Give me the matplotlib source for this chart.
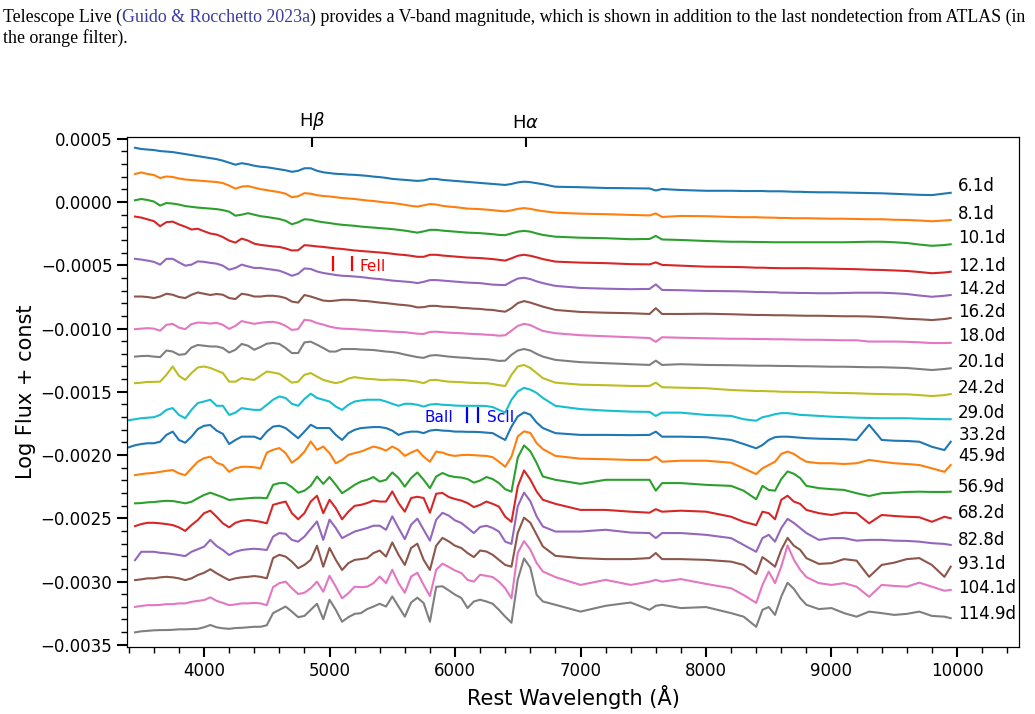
import matplotlib
matplotlib.use('Agg')
import matplotlib.pyplot as plt
import numpy as np
from matplotlib.ticker import MultipleLocator

nan = float('nan')

# rest wavelength grid (Angstrom), shared by all epochs
wave = [3400, 3450, 3500, 3550, 3600, 3650, 3700, 3750, 3800, 3850,
        3900, 3950, 4000, 4050, 4100, 4150, 4200, 4250, 4300, 4350,
        4400, 4450, 4500, 4550, 4600, 4650, 4700, 4750, 4800, 4850,
        4900, 4950, 5000, 5050, 5100, 5150, 5200, 5250, 5300, 5350,
        5400, 5450, 5500, 5550, 5600, 5650, 5700, 5750, 5800, 5850,
        5900, 5950, 6000, 6050, 6100, 6150, 6200, 6250, 6300, 6350,
        6400, 6450, 6500, 6550, 6600, 6650, 6700,
        6800, 7000, 7200, 7400, 7550, 7600, 7650, 7800,
        8000, 8200, 8300, 8400, 8450, 8500, 8550, 8600, 8650, 8700, 8750, 8800,
        8900, 9000, 9100, 9200, 9300, 9400, 9500, 9600, 9700, 9800, 9900, 9950]

epochs = ['6.1d', '8.1d', '10.1d', '12.1d', '14.2d', '16.2d', '18.0d', '20.1d',
          '24.2d', '29.0d', '33.2d', '45.9d', '56.9d', '68.2d', '82.8d', '93.1d',
          '104.1d', '114.9d']

# the "const" of each spectrum, units of 1e-4
offsets = [0.79, -1.42, -3.32, -5.53, -7.35, -9.17, -11.07, -13.12, -15.18,
           -17.15, -18.89, -20.55, -23.0, -25.06, -27.19, -29.09, -30.99, -33.04]

# log flux relative to the const, units of 1e-5
f_6_1 = [nan, 35.0, 34.0, 33.6, 33.2, 32.4, 32.0, 31.6, 30.8, 30.0,
         29.2, 28.4, 27.6, 26.8, 26.0, 24.8, 23.2, 21.6, 22.8, 22.0,
         20.8, 20.0, 19.6, 18.8, 18.0, 17.2, 16.0, 16.8, 18.8, 18.8,
         16.8, 15.6, 15.0, 14.4, 14.2, 13.8, 13.6, 13.2, 12.8, 12.2,
         11.8, 11.2, 10.4, 10.0, 9.6, 9.2, 8.8, 9.2, 10.4, 10.4,
         9.6, 9.2, 8.8, 8.4, 8.0, 7.6, 7.2, 6.8, 6.4, 6.0,
         5.6, 6.4, 7.6, 8.2, 7.8, 7.0, 6.2,
         4.2, 3.8, 3.2, 3.0, 2.8, 1.2, 2.4, 1.6,
         1.0, 1.0, 0.8, 0.8, 0.8, 0.6, 0.6, 0.6, 0.4, 0.2, 0.2, 0.0,
         -0.2, -0.2, -0.4, -0.6, -0.8, -1.0, -1.4, -1.8, -2.2, -2.4, -1.2, -0.6]
f_8_1 = [nan, 36.4, 37.6, 36.4, 35.6, 33.2, 34.4, 34.0, 32.8, 32.0,
         31.6, 31.2, 30.8, 30.4, 30.0, 29.2, 27.2, 24.8, 26.4, 26.8,
         25.6, 24.4, 23.6, 22.8, 22.0, 20.8, 18.0, 18.8, 21.2, 20.8,
         19.6, 19.0, 18.6, 18.0, 17.4, 17.0, 16.6, 16.0, 15.4, 15.0,
         14.4, 13.8, 13.4, 12.8, 12.0, 11.2, 10.6, 11.6, 12.6, 12.2,
         11.2, 10.6, 10.2, 9.6, 9.0, 8.8, 8.6, 8.2, 7.8, 7.2,
         6.8, 7.6, 8.8, 9.4, 8.8, 7.8, 7.0,
         5.8, 5.0, 4.6, 4.0, 3.6, 5.2, 2.4, 3.2,
         3.0, 2.4, 2.2, 2.2, 2.0, 1.9, 1.8, 1.6, 1.6, 1.4, 1.4, 1.4,
         1.2, 1.0, 1.0, 0.8, 0.6, 0.6, 0.2, 0.0, -0.4, -1.0, -0.4, 0.0]
f_10_1 = [nan, 34.6, 35.6, 34.8, 33.6, 30.4, 32.4, 32.0, 31.2, 30.0,
          29.4, 28.8, 28.4, 28.0, 27.6, 26.8, 25.6, 22.4, 23.2, 24.4,
          23.2, 22.0, 21.4, 20.6, 19.8, 18.4, 15.6, 17.2, 19.6, 19.2,
          18.0, 17.2, 16.6, 15.8, 15.2, 14.8, 14.4, 13.8, 13.4, 13.0,
          12.6, 12.2, 11.8, 11.2, 10.6, 9.8, 9.0, 10.0, 11.2, 11.2,
          10.6, 10.2, 9.8, 9.4, 9.0, 8.8, 8.6, 8.2, 7.8, 7.2,
          7.0, 8.4, 9.8, 10.4, 9.8, 8.4, 7.2,
          5.8, 5.0, 4.6, 3.8, 4.0, 6.4, 3.6, 3.2,
          2.4, 1.8, 1.8, 1.6, 1.6, 1.5, 1.4, 1.4, 1.4, 1.4, 1.4, 1.4,
          1.4, 1.4, 1.4, 1.6, 1.8, 1.8, 1.4, 0.8, -0.4, -1.4, -0.8, -0.2]
f_12_1 = [nan, 43.8, 43.0, 41.6, 40.2, 36.2, 39.4, 39.8, 37.6, 35.8,
          33.6, 34.2, 32.2, 30.4, 29.6, 27.6, 24.8, 23.2, 26.4, 24.8,
          22.4, 21.4, 20.8, 20.2, 19.8, 18.6, 17.0, 17.2, 21.2, 20.8,
          20.2, 19.8, 19.2, 18.6, 18.2, 17.6, 17.0, 16.6, 16.2, 15.8,
          15.4, 15.0, 14.4, 13.8, 13.4, 12.8, 12.0, 12.0, 13.6, 13.6,
          13.0, 12.6, 12.2, 11.8, 11.4, 11.2, 11.0, 10.6, 10.2, 9.6,
          9.0, 10.8, 12.8, 13.6, 12.8, 11.6, 10.2,
          8.2, 7.4, 7.0, 6.2, 6.0, 7.6, 5.6, 5.0,
          4.2, 4.0, 3.8, 3.4, 3.4, 3.2, 3.1, 3.0, 3.0, 3.0, 3.0, 3.0,
          2.8, 2.6, 2.4, 2.2, 1.8, 1.6, 1.2, 0.8, 0.0, -1.0, -0.4, 0.2]
f_14_2 = [nan, 28.6, 28.0, 27.2, 26.2, 24.0, 28.6, 28.6, 25.8, 23.2,
          24.0, 26.6, 26.2, 25.4, 24.8, 23.2, 20.0, 21.4, 24.0, 22.6,
          21.4, 21.4, 20.6, 20.0, 19.2, 17.4, 15.2, 16.8, 21.0, 20.6,
          18.6, 17.4, 16.6, 15.8, 15.2, 15.0, 14.6, 14.2, 13.6, 13.0,
          12.6, 12.0, 11.4, 11.0, 10.6, 10.2, 9.4, 10.4, 11.8, 11.8,
          11.4, 11.0, 10.6, 10.2, 9.8, 9.6, 9.4, 8.8, 8.2, 8.0,
          7.8, 10.6, 13.0, 13.6, 12.6, 10.8, 9.4,
          7.2, 5.6, 5.0, 4.6, 4.8, 8.4, 4.0, 3.8,
          3.2, 3.0, 2.8, 2.4, 2.4, 2.2, 2.2, 1.8, 1.8, 1.7, 1.6, 1.6,
          1.4, 1.4, 1.6, 1.8, 1.8, 1.8, 1.4, 0.8, -0.4, -1.4, -0.6, 0.0]
f_16_2 = [nan, 17.0, 17.0, 16.6, 15.8, 17.0, 19.2, 18.4, 16.6, 15.8,
          18.4, 20.2, 19.2, 18.2, 19.0, 18.4, 15.8, 15.0, 19.2, 18.4,
          17.0, 17.0, 17.6, 17.6, 17.0, 15.8, 13.0, 12.2, 18.2, 17.0,
          15.4, 13.8, 13.4, 13.8, 14.4, 14.4, 14.2, 13.6, 13.4, 12.8,
          12.2, 11.8, 11.2, 10.6, 10.2, 9.6, 8.4, 8.6, 9.6, 9.6,
          9.0, 8.8, 8.6, 8.0, 7.8, 7.4, 7.2, 6.6, 6.4, 5.6,
          5.0, 7.8, 11.8, 13.4, 12.2, 10.6, 9.0,
          6.4, 4.8, 4.2, 3.8, 3.2, 7.8, 3.2, 3.2,
          3.4, 3.0, 2.7, 2.4, 2.4, 2.3, 2.2, 2.2, 2.1, 2.0, 1.9, 1.8,
          1.8, 1.6, 1.4, 1.4, 1.2, 0.8, 0.2, -0.6, -1.0, -1.6, -0.8, 0.0]
f_18_0 = [nan, 10.2, 10.6, 11.0, 10.6, 9.0, 13.6, 14.4, 11.4, 10.2,
          14.2, 15.4, 15.2, 14.6, 15.2, 13.6, 10.4, 12.8, 16.6, 15.4,
          14.4, 15.2, 15.8, 16.0, 15.0, 12.8, 9.6, 10.2, 17.6, 17.0,
          15.0, 13.8, 12.2, 11.2, 10.6, 10.4, 10.2, 9.8, 9.6, 9.0,
          8.8, 8.6, 8.2, 8.0, 7.8, 7.2, 6.6, 6.4, 8.0, 8.2,
          7.8, 7.4, 7.2, 7.0, 6.6, 6.4, 6.2, 5.8, 5.6, 5.0,
          5.4, 9.0, 12.8, 14.4, 13.4, 11.0, 8.8,
          7.0, 5.4, 4.6, 3.8, 3.2, 0.2, 3.8, 3.4,
          3.0, 2.6, 2.6, 2.4, 2.4, 2.3, 2.2, 2.2, 2.1, 2.0, 1.9, 1.8,
          1.8, 1.6, 1.4, 1.4, 0.4, 0.4, 0.4, 0.2, -0.2, -0.8, -0.8, -0.6]
f_20_1 = [nan, 9.0, 9.4, 9.6, 9.0, 8.6, 13.8, 13.0, 10.4, 11.0,
          16.2, 18.2, 17.6, 17.0, 17.0, 15.8, 12.2, 14.4, 19.0, 17.6,
          14.4, 16.6, 19.2, 19.8, 19.0, 15.8, 11.8, 11.8, 20.2, 20.8,
          18.4, 15.8, 13.0, 13.0, 15.0, 15.0, 15.0, 14.6, 14.4, 14.2,
          13.6, 13.0, 12.6, 11.8, 10.6, 9.6, 8.6, 8.0, 9.8, 10.2,
          9.6, 9.0, 8.6, 8.2, 8.0, 7.4, 7.2, 7.0, 6.4, 5.6,
          5.8, 10.4, 13.8, 15.0, 13.8, 11.2, 9.0,
          6.4, 4.6, 3.8, 3.0, 2.4, 5.8, 2.4, 3.0,
          2.4, 2.2, 2.0, 1.8, 1.8, 1.8, 1.7, 1.6, 1.6, 1.5, 1.4, 1.4,
          1.2, 1.0, 1.0, 0.8, 0.6, 0.6, 0.3, 0.0, -0.8, -1.6, -0.8, -0.2]
f_24_2 = [nan, 8.6, 9.0, 9.6, 9.6, 9.8, 15.2, 21.8, 14.4, 11.2,
          16.6, 21.0, 21.8, 20.6, 18.6, 16.6, 9.8, 9.8, 12.6, 11.8,
          11.2, 14.4, 17.8, 17.0, 16.0, 12.6, 9.0, 9.8, 15.2, 16.6,
          13.8, 11.2, 9.8, 8.6, 9.8, 12.2, 13.4, 12.6, 12.0, 11.8,
          11.2, 11.2, 11.4, 11.2, 11.0, 10.4, 9.8, 8.6, 11.0, 11.2,
          10.4, 9.8, 9.6, 9.4, 9.0, 8.8, 8.6, 8.6, 8.0, 7.0,
          6.4, 15.2, 21.8, 23.0, 20.6, 16.6, 12.6,
          9.0, 7.4, 7.0, 6.4, 6.4, 9.0, 5.4, 5.0,
          4.6, 3.2, 2.8, 2.4, 2.4, 2.2, 2.1, 1.8, 1.8, 1.7, 1.6, 1.6,
          1.4, 1.0, 0.8, 0.6, 0.2, 0.0, -0.2, -0.2, -0.8, -1.6, -0.8, 0.0]
f_29_0 = [-1.0, -0.2, 0.6, 1.0, 1.4, 3.2, 7.2, 8.6, 3.2, 0.6,
          7.2, 12.6, 13.8, 15.2, 10.4, 10.4, 3.2, 5.0, 8.6, 7.8,
          7.2, 7.2, 11.2, 15.2, 17.8, 16.6, 12.0, 10.4, 15.8, 20.0,
          16.6, 15.2, 13.8, 9.8, 7.2, 11.2, 13.8, 14.6, 15.2, 15.2,
          15.2, 13.8, 12.0, 10.4, 12.0, 12.0, 11.2, 9.8, 11.4, 11.8,
          11.2, 11.0, 10.6, 10.4, 10.4, 10.4, 10.4, 10.2, 9.4, 7.2,
          5.0, 15.2, 21.8, 24.6, 23.2, 20.6, 16.6,
          10.4, 7.8, 6.6, 5.8, 5.6, 2.4, 5.0, 5.0,
          3.2, 2.4, -0.2, -1.4, 1.4, 2.4, 3.8, 4.6, 4.6, 4.0, 3.2, 3.0,
          2.4, 1.8, 1.4, 1.0, 0.8, 0.6, 0.6, 0.6, 0.2, 0.0, -0.2, -0.2]
f_33_2 = [-5.0, -3.4, -2.4, -1.8, -1.8, -0.6, 4.8, 7.4, 0.8, -1.4,
          3.4, 9.4, 12.0, 12.6, 8.2, 5.6, -2.4, 0.8, 3.4, 3.4,
          3.4, 1.4, 7.4, 11.4, 12.0, 10.2, 6.2, 2.2, 7.4, 12.8,
          10.2, 10.2, 10.2, 4.8, 0.8, 6.2, 8.8, 10.2, 10.6, 11.0,
          11.0, 10.2, 8.2, 4.8, 6.6, 7.4, 7.4, 6.2, 8.2, 8.8,
          8.2, 8.0, 7.4, 7.4, 7.2, 7.2, 7.0, 6.6, 6.2, 3.4,
          0.8, 11.4, 19.4, 22.6, 20.8, 14.6, 10.2,
          6.2, 4.8, 4.8, 4.6, 4.8, 7.4, 3.4, 3.4,
          3.0, 0.8, -2.4, -5.8, -3.2, 0.8, 3.0, 3.4, 3.4, 3.0, 2.6, 2.2,
          1.8, 1.6, 1.4, 0.8, 12.8, 0.8, 0.2, 0.0, -0.6, -4.6, -7.2, -0.6]
f_45_9 = [nan, -10.4, -9.6, -9.0, -8.6, -7.8, -7.0, -6.4, -9.0, -10.4,
          -5.0, 0.2, 3.0, 4.2, -0.6, -2.4, -7.8, -5.0, -3.8, -3.8,
          -4.2, -5.0, 7.4, 9.6, 11.0, 7.0, -0.6, 3.0, 8.2, 16.2,
          9.6, 12.2, 7.0, -1.0, 1.6, 5.6, 7.0, 8.2, 10.2, 12.2,
          11.0, 9.0, 12.2, 9.6, 4.8, 7.4, 9.6, 4.2, 0.2, 8.2,
          7.4, 5.6, 4.8, 5.4, 5.6, 5.4, 5.0, 4.8, 3.8, 0.2,
          -3.8, 4.2, 20.2, 24.2, 23.0, 15.0, 10.2,
          4.8, 2.6, 2.2, 1.6, 1.6, 4.2, 0.2, 1.0,
          1.0, -0.6, -5.0, -9.6, -5.0, -2.4, 0.2, 6.4, 8.2, 6.4, 3.0, 0.2,
          -1.0, -1.0, -1.6, -1.0, 1.6, 0.2, -1.0, -1.6, -2.4, -5.0, -7.8, -2.4]
f_56_9 = [nan, -8.2, -8.0, -7.4, -7.2, -6.6, -6.2, -6.4, -7.2, -8.2,
          -7.0, -4.2, -1.6, 0.2, -1.6, -3.4, -5.6, -5.0, -4.6, -4.2,
          -3.8, -3.8, -4.2, 6.4, 7.8, 7.8, 4.6, 0.2, 1.8, 5.6,
          13.0, 7.2, 12.6, 6.4, -0.2, 3.0, 6.4, 9.0, 10.4, 12.6,
          9.0, 10.4, 16.2, 11.8, 5.0, 11.8, 16.2, 10.4, 3.8, 13.0,
          15.8, 13.6, 12.6, 12.2, 11.0, 8.2, 9.8, 12.6, 11.0, 7.8,
          3.0, 1.0, 28.0, 37.6, 33.0, 23.8, 13.0,
          10.4, 7.2, 10.4, 10.4, 10.4, 1.8, 7.8, 7.8,
          6.4, 5.6, 1.8, -5.0, 5.6, 2.4, 1.8, 11.0, 17.0, 15.2, 11.8, 5.6,
          3.8, 3.0, 2.4, -0.2, -2.4, -0.2, 0.2, 0.8, 1.0, 0.8, 0.8, 1.0]
f_68_2 = [nan, -5.6, -4.0, -3.0, -3.0, -3.4, -4.0, -4.8, -6.6, -9.4,
          -4.8, -0.8, 4.6, 6.6, 1.8, -3.4, -6.6, -3.0, -1.4, -0.8,
          -1.4, -2.2, -3.4, 11.2, 12.6, 13.8, 4.6, -0.2, 4.6, 13.8,
          18.4, 4.6, 15.2, 8.6, -0.2, 5.8, 10.4, 11.2, 12.6, 14.6,
          13.8, 13.8, 21.8, 12.6, 5.8, 16.6, 17.6, 16.6, 5.0, 20.0,
          20.6, 17.4, 15.8, 14.6, 12.6, 9.4, 11.2, 13.8, 12.0, 9.8,
          1.8, -2.2, 25.8, 38.4, 31.2, 21.8, 15.2,
          12.0, 7.2, 7.2, 5.8, 5.0, 7.8, 5.8, 6.6,
          5.8, 1.8, -2.2, -4.8, 5.8, 4.6, -0.2, 15.2, 18.4, 13.8, 12.0, 7.2,
          4.6, 3.2, 5.0, 4.6, -3.4, 3.2, 2.4, 1.8, 1.4, -2.2, 1.8, 0.6]
f_82_8 = [nan, -11.2, -4.6, -4.6, -4.6, -5.4, -5.8, -6.4, -7.2, -8.0,
          -4.6, -2.6, -0.6, 4.8, 0.0, -3.2, -7.2, -4.6, -3.2, -2.6,
          -2.2, -2.6, -3.2, 7.4, 10.2, 9.6, 4.8, 3.4, 7.4, 13.4,
          19.4, 4.8, 20.8, 14.2, 6.2, 8.8, 11.4, 12.8, 14.2, 16.0,
          16.0, 12.8, 23.4, 14.2, 5.4, 16.8, 21.6, 12.8, 4.2, 20.8,
          26.2, 24.0, 20.2, 18.2, 14.2, 10.2, 15.0, 16.0, 14.2, 11.4,
          3.4, 1.6, 31.4, 42.2, 35.4, 23.4, 15.4,
          11.4, 11.4, 12.8, 10.6, 10.2, 6.2, 10.2, 10.2,
          8.8, 6.2, 0.8, -4.6, 6.2, 8.8, 3.4, 14.2, 21.4, 18.2, 14.2, 10.2,
          4.8, 6.2, 6.2, 4.2, 4.8, 4.8, 4.2, 4.0, 3.4, 2.2, 1.6, 0.8]
f_93_1 = [nan, -8.0, -7.4, -6.6, -6.6, -5.8, -5.4, -5.8, -6.6, -8.0,
          -6.6, -4.0, -2.2, 0.6, -2.6, -5.4, -8.0, -6.6, -5.8, -5.4,
          -4.8, -5.4, -6.6, 9.4, 12.0, 10.6, 6.6, 1.4, 4.0, 8.0,
          19.2, 2.6, 17.4, 8.0, 0.0, 5.4, 8.0, 8.6, 9.4, 13.4,
          15.4, 10.6, 21.8, 12.0, 4.0, 17.4, 20.8, 8.0, 0.0, 19.2,
          25.4, 22.6, 19.2, 17.4, 13.4, 10.2, 15.4, 14.6, 12.0, 8.0,
          4.0, 2.6, 29.4, 41.4, 37.4, 28.0, 18.6,
          11.2, 9.4, 8.6, 8.6, 9.4, 13.4, 8.6, 8.6,
          8.0, 6.6, 4.0, -3.2, 10.2, 6.6, 2.6, 16.0, 25.4, 19.2, 16.0, 9.4,
          4.8, 5.4, 8.6, 7.4, -5.4, 4.0, 5.8, 8.6, 9.4, 4.0, -5.4, 2.6]
f_104_1 = [nan, -10.2, -9.4, -8.8, -8.8, -8.6, -8.0, -8.0, -7.4, -7.4,
           -6.2, -5.4, -4.8, -2.6, -5.4, -7.0, -8.8, -8.2, -7.4, -7.4,
           -7.0, -7.4, -8.8, 5.4, 8.6, 9.8, 4.6, 0.0, 1.0, 4.6,
           9.8, 1.8, 14.4, 5.8, -3.4, 0.6, 5.8, 5.4, 5.8, 8.6,
           13.8, 8.6, 19.2, 8.6, 1.0, 13.8, 16.8, 7.2, -1.6, 19.2,
           24.0, 21.4, 18.6, 16.6, 11.2, 9.8, 15.2, 14.4, 13.4, 9.8,
           4.6, -3.4, 32.6, 41.8, 35.2, 24.6, 17.8,
           13.4, 7.2, 11.2, 7.2, 9.8, 11.2, 9.8, 11.8,
           8.0, 4.6, -0.8, -7.0, 7.2, 17.8, 8.6, 21.8, 38.4, 27.2, 19.2, 13.4,
           8.6, 7.2, 8.6, 5.8, -2.2, 7.2, 6.4, 5.8, 9.0, 5.8, 2.6, 3.2]
f_114_9 = [nan, -9.8, -9.0, -8.6, -8.2, -8.0, -8.0, -7.8, -7.4, -7.4,
           -7.2, -7.0, -5.8, -4.0, -5.8, -6.6, -7.0, -6.4, -6.2, -5.8,
           -5.4, -5.4, -4.2, 5.4, 8.0, 10.6, 6.6, 2.2, 3.2, 8.0,
           12.8, 0.6, 16.0, 8.0, -1.4, 2.2, 4.8, 5.4, 8.6, 10.6,
           12.8, 10.6, 18.6, 10.6, 2.6, 13.8, 17.6, 13.4, -1.4, 26.2,
           26.6, 23.4, 20.0, 17.4, 9.4, 14.6, 16.0, 14.6, 12.8, 8.0,
           2.6, -2.2, 32.0, 48.6, 41.4, 20.0, 14.6,
           12.0, 6.6, 11.2, 13.8, 8.0, 11.2, 12.0, 9.4,
           10.2, 5.4, 2.6, -5.4, 8.0, 10.2, 4.0, 18.6, 29.4, 24.6, 17.4, 12.0,
           8.6, 9.4, 5.4, 2.6, 6.6, 5.4, 4.0, 4.8, 6.6, 3.2, 2.6, 1.4]

spectra = [f_6_1, f_8_1, f_10_1, f_12_1, f_14_2, f_16_2, f_18_0, f_20_1, f_24_2,
           f_29_0, f_33_2, f_45_9, f_56_9, f_68_2, f_82_8, f_93_1, f_104_1, f_114_9]

# line identifications
feii_wave = [5030, 5180]
baii_scii_wave = [6095, 6180]
balmer_wave = [4861, 6563]
balmer_names = [r'H$\beta$', r'H$\alpha$']

fig = plt.figure(figsize=(10.35, 7.14), dpi=100)
ax = fig.add_axes([0.1227, 0.0938, 0.8618, 0.7143])

for i, (lab, fl) in enumerate(zip(epochs, spectra)):
    y = offsets[i] * 1e-4 + np.array(fl) * 1e-5
    ax.plot(wave, y, color=f'C{i % 10}', lw=1.5)
    ax.text(10010, offsets[i] * 1e-4 + 0.45e-4, lab, fontsize=12, va='center')

ax.vlines(feii_wave, -0.000543, -0.000427, color='red', lw=1.6)
ax.text(5240, -0.000506, 'FeII', color='red', fontsize=11, va='center')
ax.vlines(baii_scii_wave, -0.001747, -0.00162, color='blue', lw=1.6)
ax.text(5986, -0.001702, 'BaII', color='blue', fontsize=11, va='center', ha='right')
ax.text(6257, -0.001702, 'ScII', color='blue', fontsize=11, va='center')

ax.set_xlim(3386, 10494)
ax.set_ylim(-0.003518, 0.000514)
ax.xaxis.set_major_locator(MultipleLocator(1000))
ax.xaxis.set_minor_locator(MultipleLocator(200))
ax.yaxis.set_major_locator(MultipleLocator(0.0005))
ax.yaxis.set_minor_locator(MultipleLocator(0.0001))
ax.tick_params(which='major', length=7, width=1.5, labelsize=12)
ax.tick_params(which='minor', length=4, width=1)
ax.set_xlabel('Rest Wavelength (Å)', fontsize=15)
ax.set_ylabel('Log Flux + const', fontsize=15, labelpad=3)

ax2 = ax.twiny()
ax2.set_xlim(ax.get_xlim())
ax2.set_xticks(balmer_wave)
ax2.set_xticklabels(balmer_names)
ax2.tick_params(direction='in', length=7, width=1.5, labelsize=13)

# caption fragment from the paper page above the figure
r = fig.canvas.get_renderer()
parts = [('Telescope Live (', 'black'),
         ('Guido & Rocchetto 2023a', '#3b3ba3'),
         (') provides a V-band magnitude, which is shown in addition to the last nondetection from ATLAS (in', 'black')]
x = 3 / 1035
for s, c in parts:
    t = fig.text(x, 1 - 17 / 714, s, color=c, fontsize=12.9,
                 family='Liberation Serif', va='center')
    x += t.get_window_extent(renderer=r).width / fig.bbox.width
fig.text(3 / 1035, 1 - 38 / 714, 'the orange filter).', fontsize=12.9,
         family='Liberation Serif', va='center')

fig.savefig('out.png', dpi=100)
